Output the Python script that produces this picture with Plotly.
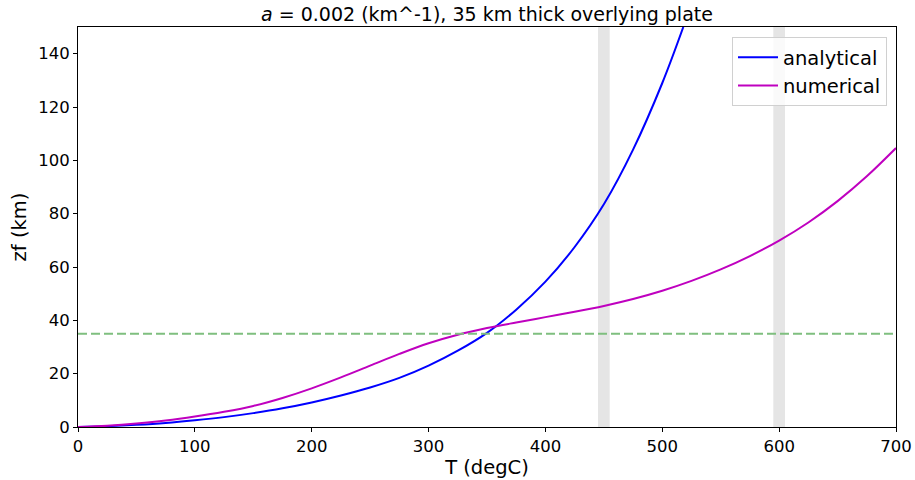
import plotly.graph_objects as go

# Analytical solution
T_analytical = [0, 25, 50, 75, 100, 125, 150, 175, 200, 225, 250, 275, 300, 325, 350, 375, 400, 425, 450, 475, 500, 518]
zf_analytical = [0, 0.3, 0.8, 1.5, 2.5, 3.7, 5.2, 7.0, 9.2, 11.8, 14.8, 18.4, 23.0, 28.6, 35.3, 44.0, 54.5, 67.5, 83.5, 104, 129, 150]

# Numerical solution
T_numerical = [0, 25, 50, 75, 100, 125, 150, 175, 200, 225, 250, 275, 300, 325, 350, 375, 400, 425, 450, 475, 500, 525, 550, 575, 600, 625, 650, 675, 700]
zf_numerical = [0, 0.5, 1.3, 2.4, 3.9, 5.7, 7.9, 10.9, 14.5, 18.6, 23.0, 27.4, 31.4, 34.6, 37.1, 39.2, 41.2, 43.2, 45.4, 48.0, 51.1, 54.8, 59.1, 64.1, 69.9, 76.7, 84.7, 94.0, 104.6]

plate_thickness = 35
band_centers = [450, 600]
band_halfwidth = 5

title = "<i>a</i> = 0.002 (km^-1), 35 km thick overlying plate"

fig = go.Figure()

for c in band_centers:
    fig.add_shape(type="rect", xref="x", yref="paper", x0=c - band_halfwidth, x1=c + band_halfwidth,
                  y0=0, y1=1, fillcolor="#e5e5e5", line_width=0, layer="below")

fig.add_shape(type="line", xref="paper", yref="y", x0=0, x1=1, y0=plate_thickness, y1=plate_thickness,
              line=dict(color="#7fbf7f", width=2, dash="9px,4px"), layer="above")

fig.add_trace(go.Scatter(x=T_analytical, y=zf_analytical, mode="lines", name="analytical",
                         line=dict(color="#0000ff", width=2, shape="spline", smoothing=1.0)))
fig.add_trace(go.Scatter(x=T_numerical, y=zf_numerical, mode="lines", name="numerical",
                         line=dict(color="#bf00bf", width=2, shape="spline", smoothing=1.0)))

font = "DejaVu Sans, Arial, sans-serif"
fig.update_layout(
    width=915, height=480,
    margin=dict(l=78, r=19, t=27, b=53),
    paper_bgcolor="white", plot_bgcolor="white",
    font=dict(family=font, color="black", size=16.5),
    title=dict(text=title, x=(78 + 896) / 2 / 915, xanchor="center", y=1 - 21 / 480, yanchor="bottom",
               font=dict(size=19, family=font), automargin=False),
    showlegend=True,
    legend=dict(x=0.989, y=0.975, xanchor="right", yanchor="top", bgcolor="rgba(255,255,255,0.8)",
                bordercolor="#d0d0d0", borderwidth=1, font=dict(size=19.5, family=font),
                tracegroupgap=0, itemwidth=40),
    xaxis=dict(range=[0, 700], dtick=100, showgrid=False, zeroline=False, showline=True, linecolor="black",
               linewidth=1, mirror=True, ticks="outside", ticklen=4, tickcolor="black", automargin=False,
               title=dict(text="T (degC)", font=dict(size=19.5), standoff=2), tickfont=dict(size=16.5)),
    yaxis=dict(range=[0, 150], dtick=20, showgrid=False, zeroline=False, showline=True, linecolor="black",
               linewidth=1, mirror=True, ticks="outside", ticklen=4, tickcolor="black", automargin=False,
               title=dict(text="zf (km)", font=dict(size=19.5), standoff=6), tickfont=dict(size=16.5)),
)

fig.write_html("out.html")
